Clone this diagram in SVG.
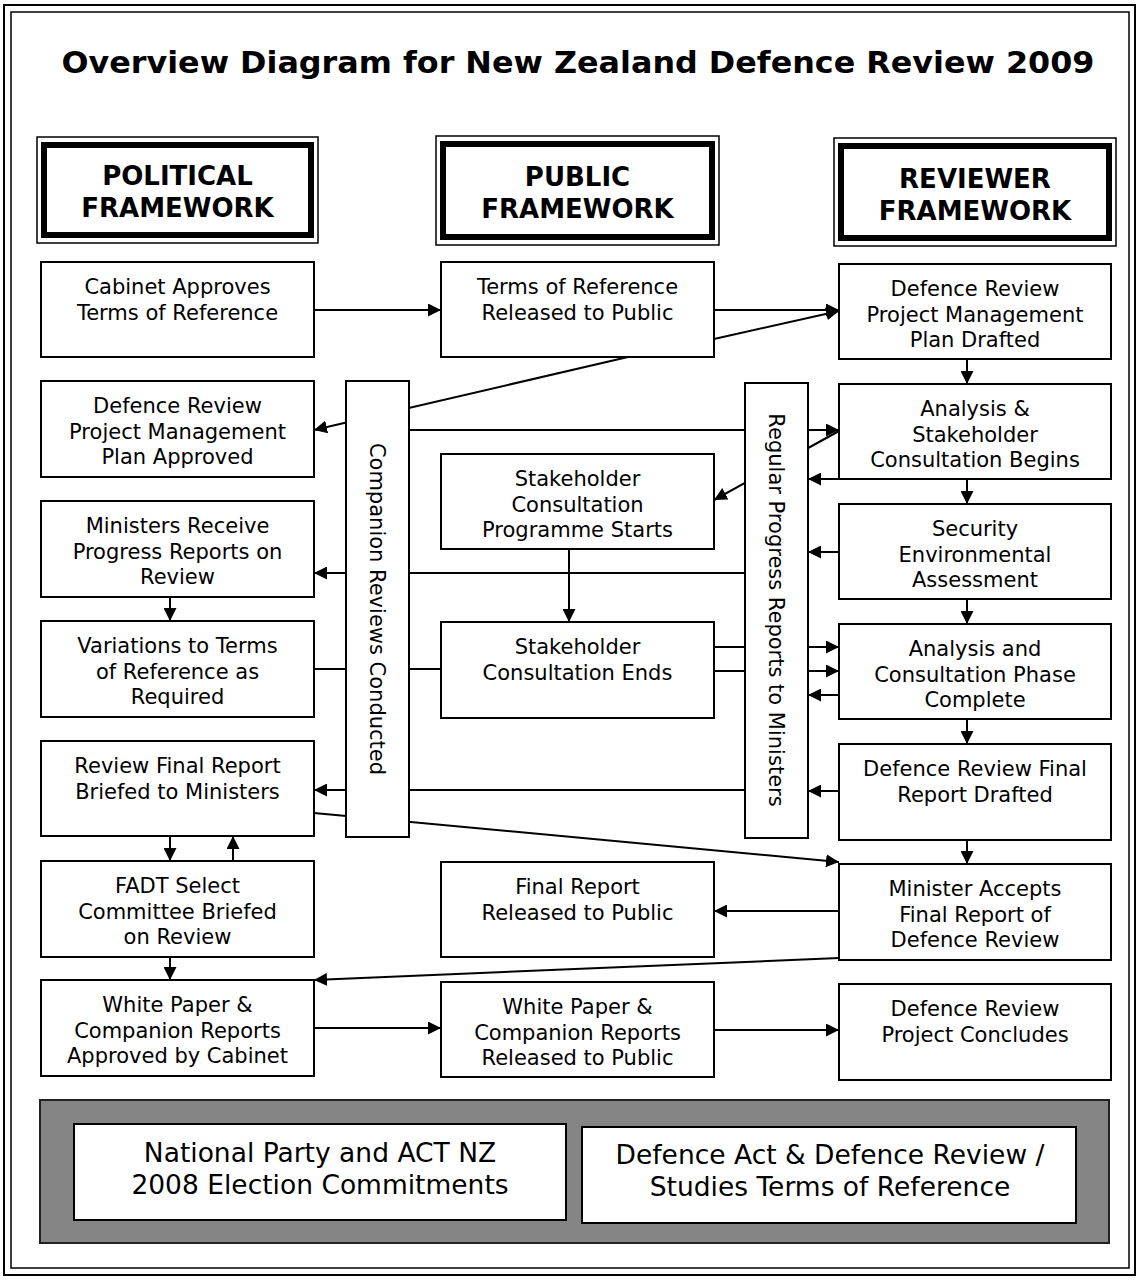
<svg xmlns="http://www.w3.org/2000/svg" width="1139" height="1281" viewBox="0 0 1139 1281">
<style>
.frame{fill:none;stroke:#000}
.box{fill:#fff;stroke:#000;stroke-width:2}
.hdo{fill:#fff;stroke:#000;stroke-width:1.5}
.hdi{fill:none;stroke:#000;stroke-width:6}
.t{font-family:"DejaVu Sans",Verdana,sans-serif;font-size:21px;text-anchor:middle;fill:#000}
.h{font-family:"DejaVu Sans",Verdana,sans-serif;font-size:26px;font-weight:bold;text-anchor:middle;fill:#000}
.title{font-family:"DejaVu Sans",Verdana,sans-serif;font-size:30px;font-weight:bold;text-anchor:middle;fill:#000}
.b{font-family:"DejaVu Sans",Verdana,sans-serif;font-size:26.5px;text-anchor:middle;fill:#000}
.c{fill:none;stroke:#000;stroke-width:2}
.a{marker-end:url(#ah)}
</style>
<defs>
<marker id="ah" viewBox="0 0 12 12" refX="12" refY="6" markerWidth="13" markerHeight="13" markerUnits="userSpaceOnUse" orient="auto">
<path d="M0,0 L12,6 L0,12 z" fill="#000"/>
</marker>
</defs>
<rect width="1139" height="1281" fill="#fff"/>
<rect class="frame" x="4" y="5" width="1131" height="1270" stroke-width="2"/>
<rect class="frame" x="11" y="12" width="1118" height="1256" stroke-width="1.5"/>
<text class="title" x="578" y="73" textLength="1033" lengthAdjust="spacingAndGlyphs">Overview Diagram for New Zealand Defence Review 2009</text>

<g id="connectors">
<path class="c a" d="M314,310 H441"/>
<path class="c a" d="M714,310 H839"/>
<path class="c a" d="M714,339 L839,311"/>
<path class="c a" d="M628,357 L314,430"/>
<path class="c a" d="M409,430 H839"/>
<path class="c a" d="M839,431 L714,500"/>
<path class="c a" d="M839,479 H808"/>
<path class="c a" d="M967,359 V384"/>
<path class="c a" d="M967,479 V504"/>
<path class="c a" d="M967,599 V624"/>
<path class="c a" d="M967,719 V744"/>
<path class="c a" d="M967,840 V864"/>
<path class="c a" d="M839,552 H808"/>
<path class="c a" d="M745,573 H314"/>
<path class="c a" d="M569,549 V622"/>
<path class="c" d="M314,669 H441"/>
<path class="c a" d="M714,647 H839"/>
<path class="c a" d="M714,671 H839"/>
<path class="c a" d="M839,695 H808"/>
<path class="c a" d="M170,597 V621"/>
<path class="c a" d="M839,791 H808"/>
<path class="c a" d="M745,790 H314"/>
<path class="c a" d="M314,813 L839,862"/>
<path class="c a" d="M170,836 V861"/>
<path class="c a" d="M233,861 V836"/>
<path class="c a" d="M170,957 V980"/>
<path class="c a" d="M839,911 H714"/>
<path class="c a" d="M839,958 L314,980"/>
<path class="c a" d="M314,1028 H441"/>
<path class="c a" d="M714,1030 H839"/>
</g>

<g id="hdr-political">
<rect class="hdo" x="37" y="137" width="281" height="106"/>
<rect class="hdi" x="44" y="145" width="267" height="90"/>
<text class="h" x="177.5" y="185">POLITICAL</text>
<text class="h" x="177.5" y="217">FRAMEWORK</text>
</g>
<g id="hdr-public">
<rect class="hdo" x="436" y="136" width="283" height="109"/>
<rect class="hdi" x="443" y="144" width="269" height="93"/>
<text class="h" x="577.5" y="186">PUBLIC</text>
<text class="h" x="577.5" y="218">FRAMEWORK</text>
</g>
<g id="hdr-reviewer">
<rect class="hdo" x="834" y="138" width="282" height="108"/>
<rect class="hdi" x="841" y="146" width="268" height="92"/>
<text class="h" x="975" y="188">REVIEWER</text>
<text class="h" x="975" y="220">FRAMEWORK</text>
</g>

<g id="bar-companion">
<rect class="box" x="346" y="381" width="63" height="456"/>
<text class="t" transform="translate(370,609) rotate(90)" x="0" y="0">Companion Reviews Conducted</text>
</g>
<g id="bar-regular">
<rect class="box" x="745" y="383" width="63" height="455"/>
<text class="t" transform="translate(769,610) rotate(90)" x="0" y="0">Regular Progress Reports to Ministers</text>
</g>

<g id="cabinet-approves">
<rect class="box" x="41" y="262" width="273" height="95"/>
<text class="t"><tspan x="177.5" y="294">Cabinet Approves</tspan><tspan x="177.5" y="319.5">Terms of Reference</tspan></text>
</g>
<g id="pmp-approved">
<rect class="box" x="41" y="381" width="273" height="96"/>
<text class="t"><tspan x="177.5" y="413">Defence Review</tspan><tspan x="177.5" y="438.5">Project Management</tspan><tspan x="177.5" y="464">Plan Approved</tspan></text>
</g>
<g id="ministers-receive">
<rect class="box" x="41" y="501" width="273" height="96"/>
<text class="t"><tspan x="177.5" y="533">Ministers Receive</tspan><tspan x="177.5" y="558.5">Progress Reports on</tspan><tspan x="177.5" y="584">Review</tspan></text>
</g>
<g id="variations">
<rect class="box" x="41" y="621" width="273" height="96"/>
<text class="t"><tspan x="177.5" y="653">Variations to Terms</tspan><tspan x="177.5" y="678.5">of Reference as</tspan><tspan x="177.5" y="704">Required</tspan></text>
</g>
<g id="final-briefed">
<rect class="box" x="41" y="741" width="273" height="95"/>
<text class="t"><tspan x="177.5" y="773">Review Final Report</tspan><tspan x="177.5" y="798.5">Briefed to Ministers</tspan></text>
</g>
<g id="fadt">
<rect class="box" x="41" y="861" width="273" height="96"/>
<text class="t"><tspan x="177.5" y="893">FADT Select</tspan><tspan x="177.5" y="918.5">Committee Briefed</tspan><tspan x="177.5" y="944">on Review</tspan></text>
</g>
<g id="wp-approved">
<rect class="box" x="41" y="980" width="273" height="96"/>
<text class="t"><tspan x="177.5" y="1012">White Paper &amp;</tspan><tspan x="177.5" y="1037.5">Companion Reports</tspan><tspan x="177.5" y="1063">Approved by Cabinet</tspan></text>
</g>

<g id="tor-released">
<rect class="box" x="441" y="262" width="273" height="95"/>
<text class="t"><tspan x="577.5" y="294">Terms of Reference</tspan><tspan x="577.5" y="319.5">Released to Public</tspan></text>
</g>
<g id="sc-starts">
<rect class="box" x="441" y="454" width="273" height="95"/>
<text class="t"><tspan x="577.5" y="486">Stakeholder</tspan><tspan x="577.5" y="511.5">Consultation</tspan><tspan x="577.5" y="537">Programme Starts</tspan></text>
</g>
<g id="sc-ends">
<rect class="box" x="441" y="622" width="273" height="96"/>
<text class="t"><tspan x="577.5" y="654">Stakeholder</tspan><tspan x="577.5" y="679.5">Consultation Ends</tspan></text>
</g>
<g id="final-released">
<rect class="box" x="441" y="862" width="273" height="95"/>
<text class="t"><tspan x="577.5" y="894">Final Report</tspan><tspan x="577.5" y="919.5">Released to Public</tspan></text>
</g>
<g id="wp-released">
<rect class="box" x="441" y="982" width="273" height="95"/>
<text class="t"><tspan x="577.5" y="1014">White Paper &amp;</tspan><tspan x="577.5" y="1039.5">Companion Reports</tspan><tspan x="577.5" y="1065">Released to Public</tspan></text>
</g>

<g id="pmp-drafted">
<rect class="box" x="839" y="264" width="272" height="95"/>
<text class="t"><tspan x="975" y="296">Defence Review</tspan><tspan x="975" y="321.5">Project Management</tspan><tspan x="975" y="347">Plan Drafted</tspan></text>
</g>
<g id="analysis-begins">
<rect class="box" x="839" y="384" width="272" height="95"/>
<text class="t"><tspan x="975" y="416">Analysis &amp;</tspan><tspan x="975" y="441.5">Stakeholder</tspan><tspan x="975" y="467">Consultation Begins</tspan></text>
</g>
<g id="security">
<rect class="box" x="839" y="504" width="272" height="95"/>
<text class="t"><tspan x="975" y="536">Security</tspan><tspan x="975" y="561.5">Environmental</tspan><tspan x="975" y="587">Assessment</tspan></text>
</g>
<g id="phase-complete">
<rect class="box" x="839" y="624" width="272" height="95"/>
<text class="t"><tspan x="975" y="656">Analysis and</tspan><tspan x="975" y="681.5">Consultation Phase</tspan><tspan x="975" y="707">Complete</tspan></text>
</g>
<g id="final-drafted">
<rect class="box" x="839" y="744" width="272" height="96"/>
<text class="t"><tspan x="975" y="776">Defence Review Final</tspan><tspan x="975" y="801.5">Report Drafted</tspan></text>
</g>
<g id="minister-accepts">
<rect class="box" x="839" y="864" width="272" height="96"/>
<text class="t"><tspan x="975" y="896">Minister Accepts</tspan><tspan x="975" y="921.5">Final Report of</tspan><tspan x="975" y="947">Defence Review</tspan></text>
</g>
<g id="project-concludes">
<rect class="box" x="839" y="984" width="272" height="96"/>
<text class="t"><tspan x="975" y="1016">Defence Review</tspan><tspan x="975" y="1041.5">Project Concludes</tspan></text>
</g>

<g id="foundation">
<rect x="40" y="1100" width="1069" height="143" fill="#858585" stroke="#222" stroke-width="2"/>
<g id="election-commitments">
<rect class="box" x="74" y="1124" width="492" height="96"/>
<text class="b"><tspan x="320" y="1162">National Party and ACT NZ</tspan><tspan x="320" y="1194">2008 Election Commitments</tspan></text>
</g>
<g id="defence-act">
<rect class="box" x="582" y="1127" width="494" height="96"/>
<text class="b"><tspan x="830" y="1164">Defence Act &amp; Defence Review /</tspan><tspan x="830" y="1196">Studies Terms of Reference</tspan></text>
</g>
</g>
</svg>
